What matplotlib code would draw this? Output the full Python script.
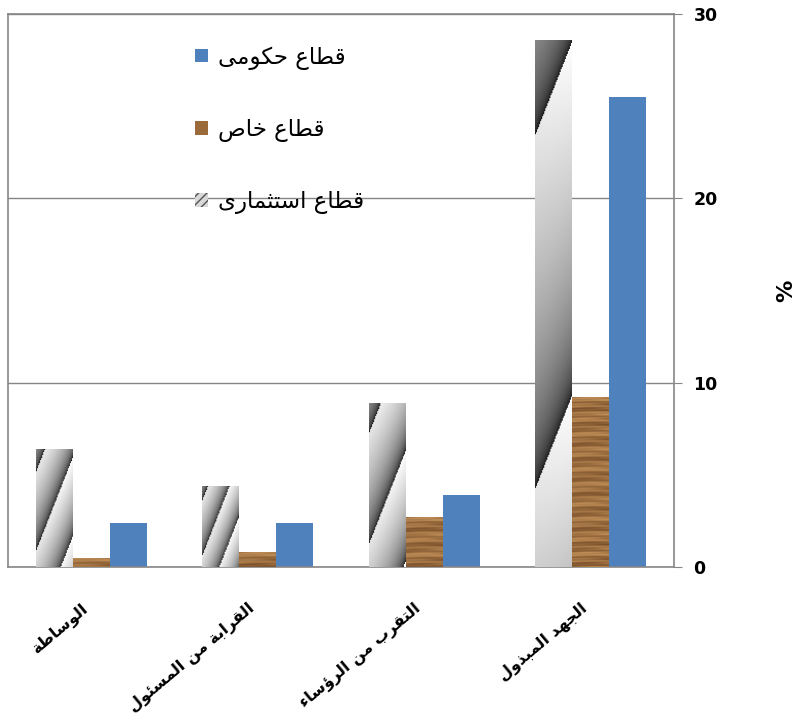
import numpy as np
import matplotlib
matplotlib.use("Agg")
import matplotlib.pyplot as plt
from matplotlib.patches import Patch

# ---------------- data ----------------
categories = ["الوساطة", "القرابة من المسئول", "التقرب من الرؤساء", "الجهد المبذول"]
series_names = ["قطاع استثمارى", "قطاع خاص", "قطاع حكومى"]
invest = [6.4, 4.4, 8.9, 28.6]
private = [0.5, 0.8, 2.7, 9.2]
government = [2.4, 2.4, 3.9, 25.5]
y_ticks = [0, 10, 20, 30]
y_label = "%"

# ------------- arabic shaping (presentation forms + visual order) -------------
FORMS = {
    'ء': (0xFE80, 1), 'آ': (0xFE81, 2), 'أ': (0xFE83, 2), 'ؤ': (0xFE85, 2),
    'إ': (0xFE87, 2), 'ئ': (0xFE89, 4), 'ا': (0xFE8D, 2), 'ب': (0xFE8F, 4),
    'ة': (0xFE93, 2), 'ت': (0xFE95, 4), 'ث': (0xFE99, 4), 'ج': (0xFE9D, 4),
    'ح': (0xFEA1, 4), 'خ': (0xFEA5, 4), 'د': (0xFEA9, 2), 'ذ': (0xFEAB, 2),
    'ر': (0xFEAD, 2), 'ز': (0xFEAF, 2), 'س': (0xFEB1, 4), 'ش': (0xFEB5, 4),
    'ص': (0xFEB9, 4), 'ض': (0xFEBD, 4), 'ط': (0xFEC1, 4), 'ظ': (0xFEC5, 4),
    'ع': (0xFEC9, 4), 'غ': (0xFECD, 4), 'ف': (0xFED1, 4), 'ق': (0xFED5, 4),
    'ك': (0xFED9, 4), 'ل': (0xFEDD, 4), 'م': (0xFEE1, 4), 'ن': (0xFEE5, 4),
    'ه': (0xFEE9, 4), 'و': (0xFEED, 2), 'ى': (0xFEEF, 2), 'ي': (0xFEF1, 4),
}


def shape(s):
    out = []
    i = 0
    n = len(s)
    while i < n:
        ch = s[i]
        if ch not in FORMS:
            out.append(ch)
            i += 1
            continue
        prev = s[i - 1] if i > 0 else ''
        jp = prev in FORMS and FORMS[prev][1] == 4
        if ch == 'ل' and i + 1 < n and s[i + 1] == 'ا':
            out.append(chr(0xFEFC if jp else 0xFEFB))
            i += 2
            continue
        base, k = FORMS[ch]
        nxt = s[i + 1] if i + 1 < n else ''
        jp = jp and k >= 2
        jn = k == 4 and nxt in FORMS and FORMS[nxt][1] >= 2
        if jp and jn:
            f = base + 3
        elif jp:
            f = base + 1
        elif jn:
            f = base + 2
        else:
            f = base
        out.append(chr(f))
        i += 1
    return ''.join(reversed(out))


# ---------------- figure ----------------
W, H = 801, 717
fig = plt.figure(figsize=(W / 100, H / 100), dpi=100)
ax = fig.add_axes([8 / W, 150 / H, 666 / W, 553 / H])

grey = "#868686"
blue = "#4F81BD"
wood = "#9a6a3a"
x = np.arange(len(categories))
bw = 0.222

b_inv = ax.bar(x - bw, invest, bw, color="#d0d0d0", linewidth=0, zorder=2)
b_pri = ax.bar(x, private, bw, color=wood, linewidth=0, zorder=2)
b_gov = ax.bar(x + bw, government, bw, color=blue, linewidth=0, zorder=2)

ax.set_xlim(-0.5, len(categories) - 0.5)
ax.set_ylim(0, 30)

px_per_y = 553 / 30.0
px_per_x = 666 / 4.0

# striped gradient texture for investment-sector bars
for p in b_inv:
    x0, w, h = p.get_x(), p.get_width(), p.get_height()
    hp = max(int(h * px_per_y), 2)
    wp = max(int(w * px_per_x), 2)
    yy, xx = np.mgrid[0:hp, 0:wp]
    yb = hp - yy  # pixel height from bottom
    P = 0.67 * hp
    t = (yb - 0.15 * hp - 2.6 * xx) / P
    f = t - np.floor(t)
    v = 0.03 + 0.97 * f ** 0.42
    v = np.clip(v * (0.9 + 0.1 * xx / wp), 0, 1)
    img = np.dstack([v, v, v])
    im = ax.imshow(img, extent=[x0, x0 + w, 0, h], aspect="auto",
                   interpolation="bilinear", zorder=3)
    im.set_clip_path(p)

# wood texture for private-sector bars
dark = np.array([100, 60, 28]) / 255.0
light = np.array([196, 146, 90]) / 255.0
for p in b_pri:
    x0, w, h = p.get_x(), p.get_width(), p.get_height()
    hp = max(int(h * px_per_y), 2)
    wp = max(int(w * px_per_x), 2)
    yy, xx = np.mgrid[0:hp, 0:wp]
    g = (0.6 + 0.18 * np.sin(2 * np.pi * yy / 7.0 + 0.6 * np.sin(xx / 9.0))
         + 0.12 * np.sin(2 * np.pi * yy / 2.9 + xx / 15.0)
         + 0.14 * np.sin(2 * np.pi * yy / 17.0 + xx / 25.0))
    g = np.clip(g, 0, 1)[..., None]
    img = dark * (1 - g) + light * g
    im = ax.imshow(img, extent=[x0, x0 + w, 0, h], aspect="auto",
                   interpolation="bilinear", zorder=3)
    im.set_clip_path(p)

ax.set_xlim(-0.5, len(categories) - 0.5)
ax.set_ylim(0, 30)

# grid & spines
ax.set_yticks(y_ticks)
ax.yaxis.grid(True, color=grey, linewidth=1)
ax.set_axisbelow(True)
for s in ax.spines.values():
    s.set_color(grey)
    s.set_linewidth(1.2)
ax.yaxis.tick_right()
ax.yaxis.set_label_position("right")
ax.tick_params(axis="y", direction="out", length=6, color=grey, pad=8,
               labelsize=12.5)
for lab in ax.get_yticklabels():
    lab.set_fontweight("bold")
ax.set_ylabel(y_label, rotation=90, fontsize=16, fontweight="bold", labelpad=42)

ax.set_xticks(x)
ax.set_xticklabels([shape(c) for c in categories], rotation=40, ha="right",
                   fontsize=11.5, fontweight="bold", family=["DejaVu Sans"])
ax.tick_params(axis="x", length=0, pad=24)

# legend
handles = [
    Patch(facecolor=blue, edgecolor="none"),
    Patch(facecolor=wood, edgecolor="none"),
    Patch(facecolor="#d8d8d8", edgecolor="#555555", hatch="////", linewidth=0),
]
labels = [shape(series_names[2]), shape(series_names[1]), shape(series_names[0])]
leg = ax.legend(handles, labels, loc="upper left", bbox_to_anchor=(0.25, 0.98),
                frameon=False, labelspacing=2.1, handlelength=0.55,
                handleheight=0.55, handletextpad=0.45,
                prop={"size": 16.5, "family": "DejaVu Sans"})

fig.savefig("out.png", dpi=100)
